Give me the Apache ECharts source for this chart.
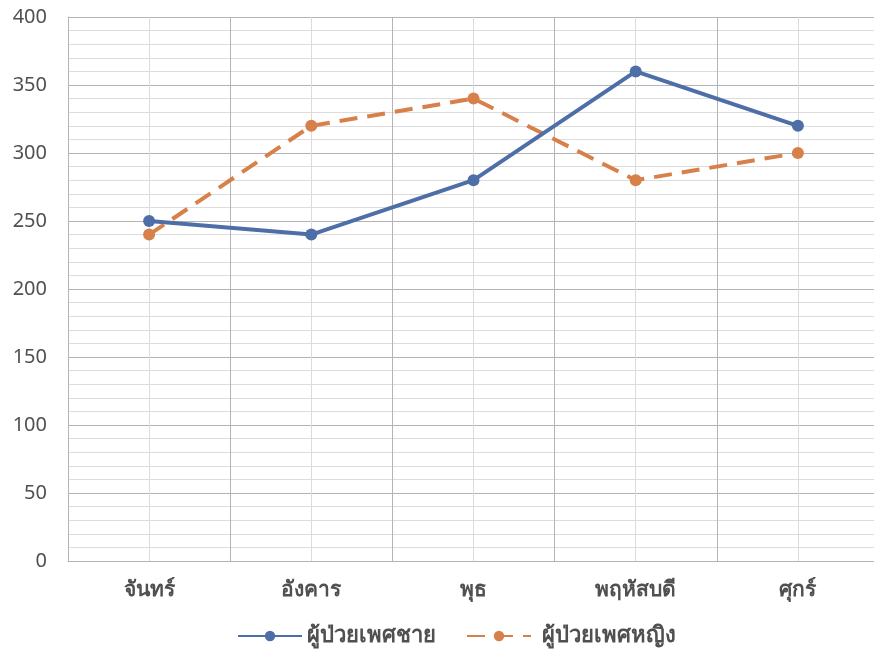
<!DOCTYPE html>
<html><head><meta charset="utf-8">
<script src="https://cdn.jsdelivr.net/npm/echarts@6/dist/echarts.min.js"></script>
<style>html,body{margin:0;padding:0;background:#fff;overflow:hidden}#c{width:880px;height:654px}</style>
</head><body><div id="c"></div>
<script>
const categories = ['จันทร์','อังคาร','พุธ','พฤหัสบดี','ศุกร์'];
const maleName = 'ผู้ป่วยเพศชาย';
const femaleName = 'ผู้ป่วยเพศหญิง';
const maleValues = [250, 240, 280, 360, 320];
const femaleValues = [240, 320, 340, 280, 300];
const yTicks = [0, 50, 100, 150, 200, 250, 300, 350, 400];

const font = '"Noto Sans", "DejaVu Sans", sans-serif';
const chart = echarts.init(document.getElementById('c'));
chart.setOption({
  animation: false,
  grid: {left: 68, top: 17, height: 544, width: 811, containLabel: false},
  legend: {
    bottom: 2, left: 232, itemWidth: 64, itemHeight: 13, itemGap: 30,
    textStyle: {color: '#505050', fontSize: 22, fontWeight: 'bold', fontFamily: font},
    data: [
      {name: maleName},
      {name: femaleName, textStyle: {padding: [0, 0, 0, 6]}}
    ]
  },
  xAxis: [{
    type: 'category', data: categories, boundaryGap: true,
    axisLine: {show: true, lineStyle: {color: '#b4b4b4', width: 1}},
    axisTick: {show: false},
    axisLabel: {color: '#505050', fontSize: 21, fontWeight: 'bold', fontFamily: font, margin: 19},
    splitLine: {show: true, lineStyle: {color: '#b4b4b4', width: 1}}
  }, {
    type: 'value', min: 0, max: 5, interval: 1, show: true, position: 'bottom',
    axisLine: {show: false}, axisTick: {show: false}, axisLabel: {show: false},
    splitLine: {show: false},
    minorTick: {show: false, splitNumber: 2},
    minorSplitLine: {show: true, lineStyle: {color: '#dcdcdc', width: 1}}
  }],
  yAxis: {
    type: 'value', min: yTicks[0], max: yTicks[yTicks.length - 1], interval: 50,
    axisLine: {show: true, lineStyle: {color: '#b4b4b4'}},
    axisTick: {show: false},
    axisLabel: {color: '#505050', fontSize: 20, fontFamily: font, margin: 21},
    splitLine: {show: true, lineStyle: {color: '#b4b4b4', width: 1}},
    minorTick: {show: false, splitNumber: 5},
    minorSplitLine: {show: true, lineStyle: {color: '#dcdcdc', width: 1}}
  },
  series: [{
    name: maleName, type: 'line', data: maleValues, xAxisIndex: 0,
    symbol: 'circle', symbolSize: 12, z: 3,
    lineStyle: {color: '#4e6ea8', width: 4},
    itemStyle: {color: '#4e6ea8'}
  }, {
    name: femaleName, type: 'line', data: femaleValues, xAxisIndex: 0,
    symbol: 'circle', symbolSize: 12, z: 2,
    lineStyle: {color: '#d8804a', width: 4, type: [18, 10]},
    itemStyle: {color: '#d8804a'}
  }]
});
</script></body></html>
